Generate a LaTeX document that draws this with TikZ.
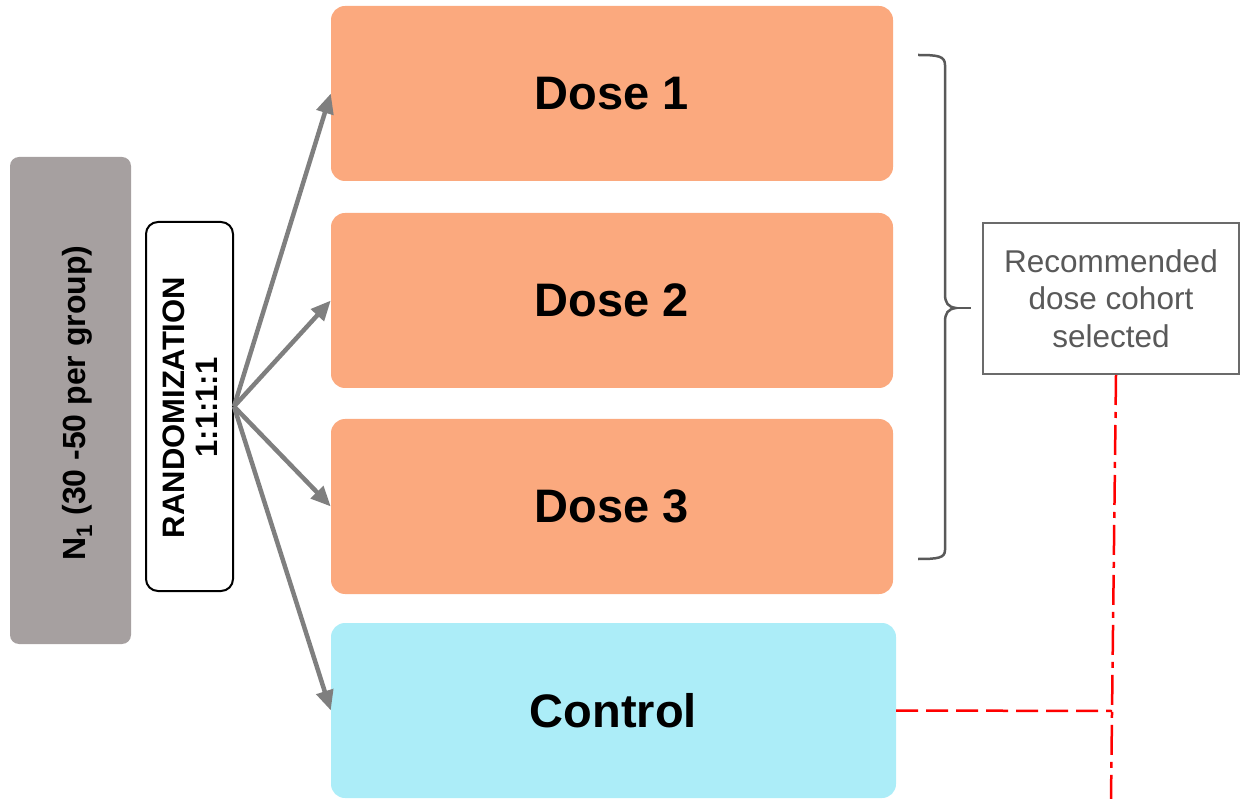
\documentclass[tikz,border=0pt]{standalone}
\usepackage{fontspec}
\usepackage{graphicx}
\setmainfont{Liberation Sans}
\usetikzlibrary{arrows.meta}
\definecolor{grayA}{HTML}{A6A0A0}
\definecolor{doseC}{HTML}{FBA97E}
\definecolor{ctrlC}{HTML}{ACEDF8}
\definecolor{arrowC}{HTML}{7F7F7F}
\definecolor{braceC}{HTML}{595959}
\definecolor{recB}{HTML}{6B6B6B}
\definecolor{recT}{HTML}{595959}
\definecolor{redL}{HTML}{FF0000}
\begin{document}
\begin{tikzpicture}[x=1pt,y=-1pt,
  box/.style={draw=none, rounded corners=14pt, minimum width=562pt, minimum height=175pt, inner sep=0pt, font=\fontsize{47}{50}\selectfont\bfseries},
  dosebox/.style={box, fill=doseC},
  ctrlbox/.style={box, fill=ctrlC, minimum width=565pt},
  arr/.style={draw=arrowC, line width=4.5pt, -{Triangle[length=20pt,width=17pt]}},
  bracepath/.style={draw=braceC, line width=2.5pt},
  recbox/.style={draw=recB, line width=2pt, fill=white, minimum width=256pt, minimum height=151pt, inner sep=0pt, align=center, text=recT, font=\fontsize{31.5}{37.5}\selectfont},
  reddashdot/.style={draw=redL, line width=2.5pt, dash pattern=on 30pt off 7pt on 6pt off 7pt},
  reddash/.style={draw=redL, line width=2.5pt, dash pattern=on 22pt off 8pt},
  vtext/.style={rotate=90, inner sep=0pt, align=center, font=\fontsize{31}{33}\selectfont\bfseries}
]
\useasboundingbox (0,0) rectangle (1240,799);

% N1 box
\node[fill=grayA, rounded corners=9pt, minimum width=121pt, minimum height=487pt, inner sep=0pt] (n) at (70.5,400.5) {};
\node[vtext, font=\fontsize{32}{34}\selectfont\bfseries] (ntext) at (77,403) {N\textsubscript{1} (30 -50 per group)};

% Randomization box
\node[draw=black, fill=white, line width=2pt, rounded corners=12pt, minimum width=87pt, minimum height=369pt, inner sep=0pt] (rand) at (189.5,406.5) {};
\node[vtext] (randtext) at (190,407.5) {RANDOMIZATION\\1:1:1:1};

% Arms
\node[dosebox] (d1) at (612,93.5) {Dose 1};
\node[dosebox] (d2) at (612,300.5) {Dose 2};
\node[dosebox] (d3) at (612,506.5) {Dose 3};
\node[ctrlbox] (ctrl) at (613.5,710.5) {Control};

% Arrows
\draw[arr] (rand.east) -- (d1.west);
\draw[arr] (rand.east) -- (d2.west);
\draw[arr] (rand.east) -- (d3.west);
\draw[arr] (rand.east) -- (ctrl.west);

% Brace
\draw[bracepath] (918,55) .. controls (938,55) and (945,56) .. (945,65) -- (945,294)
  .. controls (945,303) and (948,307) .. (956,308)
  .. controls (948,309) and (945,313) .. (945,322) -- (945,550)
  .. controls (945,558) and (938,559) .. (918,559);
\draw[bracepath] (956,308) -- (971,308);

% Recommended box
\node[recbox] (rec) at (1111,298.5) {Recommended\\dose cohort\\selected};

% Red lines
\coordinate (j) at (1112,711);
\coordinate (bot) at (1111,799);
\draw[reddashdot] ([xshift=5pt]rec.south) -- (bot);
\draw[reddash] (ctrl.east) -- (j);
\end{tikzpicture}
\end{document}
